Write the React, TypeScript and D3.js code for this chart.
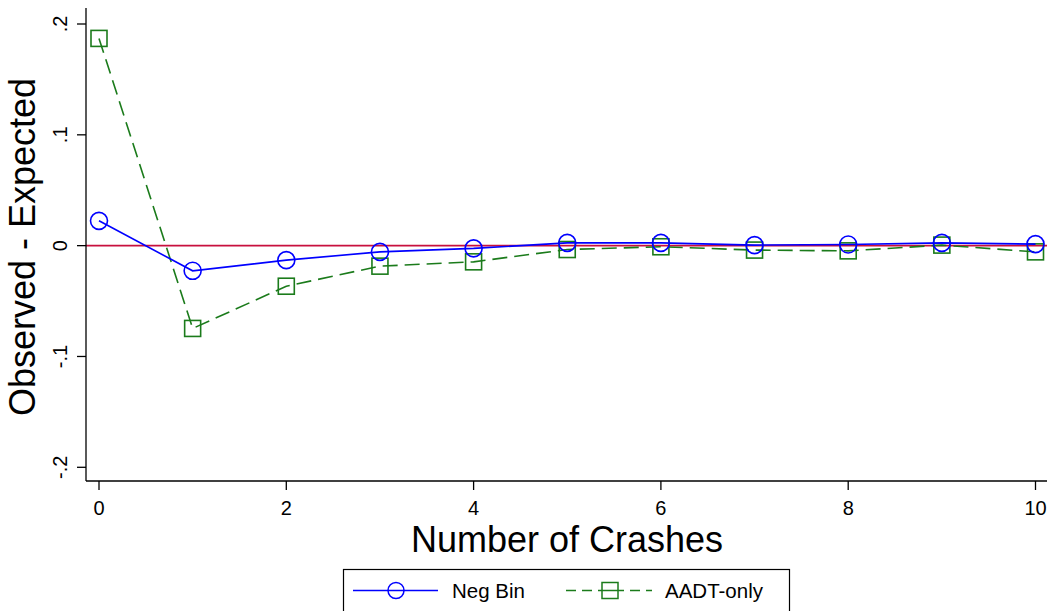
import React from "react";
import * as d3 from "d3";

const crashes = [0, 1, 2, 3, 4, 5, 6, 7, 8, 9, 10];
const negBin = [0.0224, -0.0227, -0.0131, -0.0056, -0.0025, 0.0025, 0.0025, 0.0005, 0.001, 0.0025, 0.0014];
const aadtOnly = [0.187, -0.0747, -0.0366, -0.0185, -0.0146, -0.0035, -0.001, -0.004, -0.0047, 0.0005, -0.0056];
const xTicks = [0, 2, 4, 6, 8, 10];
const yTicks = [-0.2, -0.1, 0, 0.1, 0.2];
const yTickLabels = ["-.2", "-.1", "0", ".1", ".2"];

const W = 1052;
const H = 611;
const FONT = "'Liberation Sans', Arial, Helvetica, sans-serif";
const BLUE = "#0000ff";
const GREEN = "#1b7b1b";
const RED = "#c8103e";

export default function App() {
  const x = d3.scaleLinear().domain([0, 10]).range([99, 1035.5]);
  const y = d3.scaleLinear().domain([-0.2, 0.2]).range([467.3, 24]);

  const axisLeft = 86;
  const axisBottom = 481;
  const plotRight = 1047;
  const plotTop = 8;

  const line = d3
    .line<number>()
    .x((_, i) => x(crashes[i]))
    .y((d) => y(d));

  const legendY = 590.5;

  return (
    <svg
      width={W}
      height={H}
      style={{ position: "absolute", left: 0, top: 0, background: "#fff" }}
      fontFamily={FONT}
    >
      <rect x={0} y={0} width={W} height={H} fill="#fff" />

      {/* zero reference line */}
      <line x1={axisLeft} x2={plotRight} y1={y(0)} y2={y(0)} stroke={RED} strokeWidth={1.6} />

      {/* AADT-only series */}
      <path d={line(aadtOnly) ?? ""} fill="none" stroke={GREEN} strokeWidth={1.6} strokeDasharray="15 7" />
      {aadtOnly.map((v, i) => (
        <rect
          key={"s" + i}
          x={x(crashes[i]) - 8}
          y={y(v) - 8}
          width={16}
          height={16}
          fill="none"
          stroke={GREEN}
          strokeWidth={1.6}
        />
      ))}

      {/* Neg Bin series */}
      <path d={line(negBin) ?? ""} fill="none" stroke={BLUE} strokeWidth={1.6} />
      {negBin.map((v, i) => (
        <circle
          key={"c" + i}
          cx={x(crashes[i])}
          cy={y(v)}
          r={8.5}
          fill="none"
          stroke={BLUE}
          strokeWidth={1.6}
        />
      ))}

      {/* axes */}
      <line x1={axisLeft} x2={axisLeft} y1={plotTop} y2={axisBottom} stroke="#000" strokeWidth={1.3} />
      <line x1={axisLeft} x2={plotRight} y1={axisBottom} y2={axisBottom} stroke="#000" strokeWidth={1.3} />

      {yTicks.map((t, i) => (
        <g key={"yt" + i}>
          <line x1={axisLeft - 9} x2={axisLeft} y1={y(t)} y2={y(t)} stroke="#000" strokeWidth={1.3} />
          <text
            transform={`translate(67,${y(t)}) rotate(-90)`}
            textAnchor="middle"
            fontSize={20}
            fill="#000"
          >
            {yTickLabels[i]}
          </text>
        </g>
      ))}

      {xTicks.map((t) => (
        <g key={"xt" + t}>
          <line x1={x(t)} x2={x(t)} y1={axisBottom} y2={axisBottom + 9} stroke="#000" strokeWidth={1.3} />
          <text x={x(t)} y={515} textAnchor="middle" fontSize={20} fill="#000">
            {t}
          </text>
        </g>
      ))}

      {/* axis titles */}
      <text x={567} y={552} textAnchor="middle" fontSize={36} fill="#000">
        Number of Crashes
      </text>
      <text transform="translate(35,247) rotate(-90)" textAnchor="middle" fontSize={36} fill="#000">
        Observed - Expected
      </text>

      {/* legend */}
      <rect x={343.5} y={569.5} width={446} height={60} fill="#fff" stroke="#000" strokeWidth={1.2} />
      <line x1={353} x2={438} y1={legendY} y2={legendY} stroke={BLUE} strokeWidth={1.5} />
      <circle cx={396} cy={legendY} r={8} fill="none" stroke={BLUE} strokeWidth={1.5} />
      <text x={452} y={legendY + 7} fontSize={20.5} fill="#000">
        Neg Bin
      </text>
      <line x1={566} x2={652} y1={legendY} y2={legendY} stroke={GREEN} strokeWidth={1.5} strokeDasharray="10 6" />
      <rect x={602} y={legendY - 8} width={16} height={16} fill="#fff" stroke={GREEN} strokeWidth={1.5} />
      <line x1={602} x2={618} y1={legendY} y2={legendY} stroke={GREEN} strokeWidth={1.5} />
      <text x={665} y={legendY + 7} fontSize={20.5} fill="#000">
        AADT-only
      </text>
    </svg>
  );
}
